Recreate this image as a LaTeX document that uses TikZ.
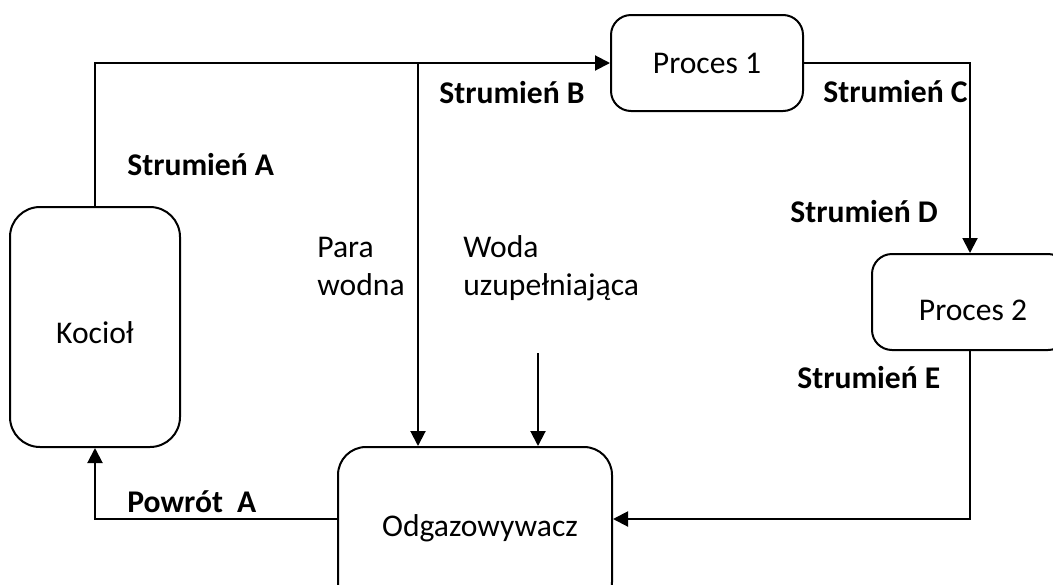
\documentclass[tikz,border=0pt]{standalone}
\usepackage{fontspec}
\setmainfont{Carlito}
\usetikzlibrary{arrows.meta}
\begin{document}
\begin{tikzpicture}[x=0.5pt,y=-0.5pt,
  every node/.style={font=\fontsize{15.8}{19}\selectfont},
  box/.style={draw,line width=1pt,rounded corners=12pt,inner sep=0pt},
  conn/.style={line width=1pt},
  arr/.style={conn,-{Triangle[length=7.5pt,width=7.5pt]}},
  lbl/.style={anchor=base west,inner sep=0pt,font=\fontsize{15.8}{19}\selectfont\bfseries},
  txt/.style={anchor=base west,inner sep=0pt,align=left}]
\useasboundingbox (0,0) rectangle (1053,584);
\clip (0,0) rectangle (1053,584);
\node[box,minimum width=85pt,minimum height=120pt,rounded corners=15pt] (kociol) at (95,327) {};
\node[inner sep=0pt] (kocioltxt) at (95,333) {Kocioł};
\node[box,minimum width=96pt,minimum height=48pt,rounded corners=10pt] (proces1) at (707,63) {Proces 1};
\node[box,minimum width=98pt,minimum height=48pt,rounded corners=10pt] (proces2) at (970,302) {};
\node[inner sep=0pt] (proces2txt) at (973,310) {Proces 2};
\node[box,minimum width=137pt,minimum height=81.5pt,rounded corners=14pt] (odg) at (475,528.5) {\hspace*{5pt}Odgazowywacz};
\coordinate (odgE) at ([yshift=4.75pt]odg.east);
\coordinate (odgW) at ([yshift=4.75pt]odg.west);
\coordinate (pw) at (418,63);
\coordinate (woda) at (538,353);
\draw[arr] (kociol.north) |- (proces1.west);
\draw[arr] (pw) -- (pw |- odg.north);
\draw[arr] (woda) -- (woda |- odg.north);
\draw[arr] (proces1.east) -| (proces2.north);
\draw[arr] (proces2.south) |- (odgE);
\draw[arr] (odgW) -| (kociol.south);
\node[lbl] (sa) at (127,175) {Strumień A};
\node[lbl] (sb) at (439,103) {Strumień B};
\node[lbl] (sc) at (823,102) {Strumień C};
\node[lbl] (sd) at (790,222) {Strumień D};
\node[lbl] (se) at (797,388) {Strumień E};
\node[lbl] (pa) at (127,512) {Powrót\ \ A};
\node[txt] (para) at (317,295) {Para\\wodna};
\node[txt] (wodatxt) at (463,295) {Woda\\uzupełniająca};
\end{tikzpicture}
\end{document}
